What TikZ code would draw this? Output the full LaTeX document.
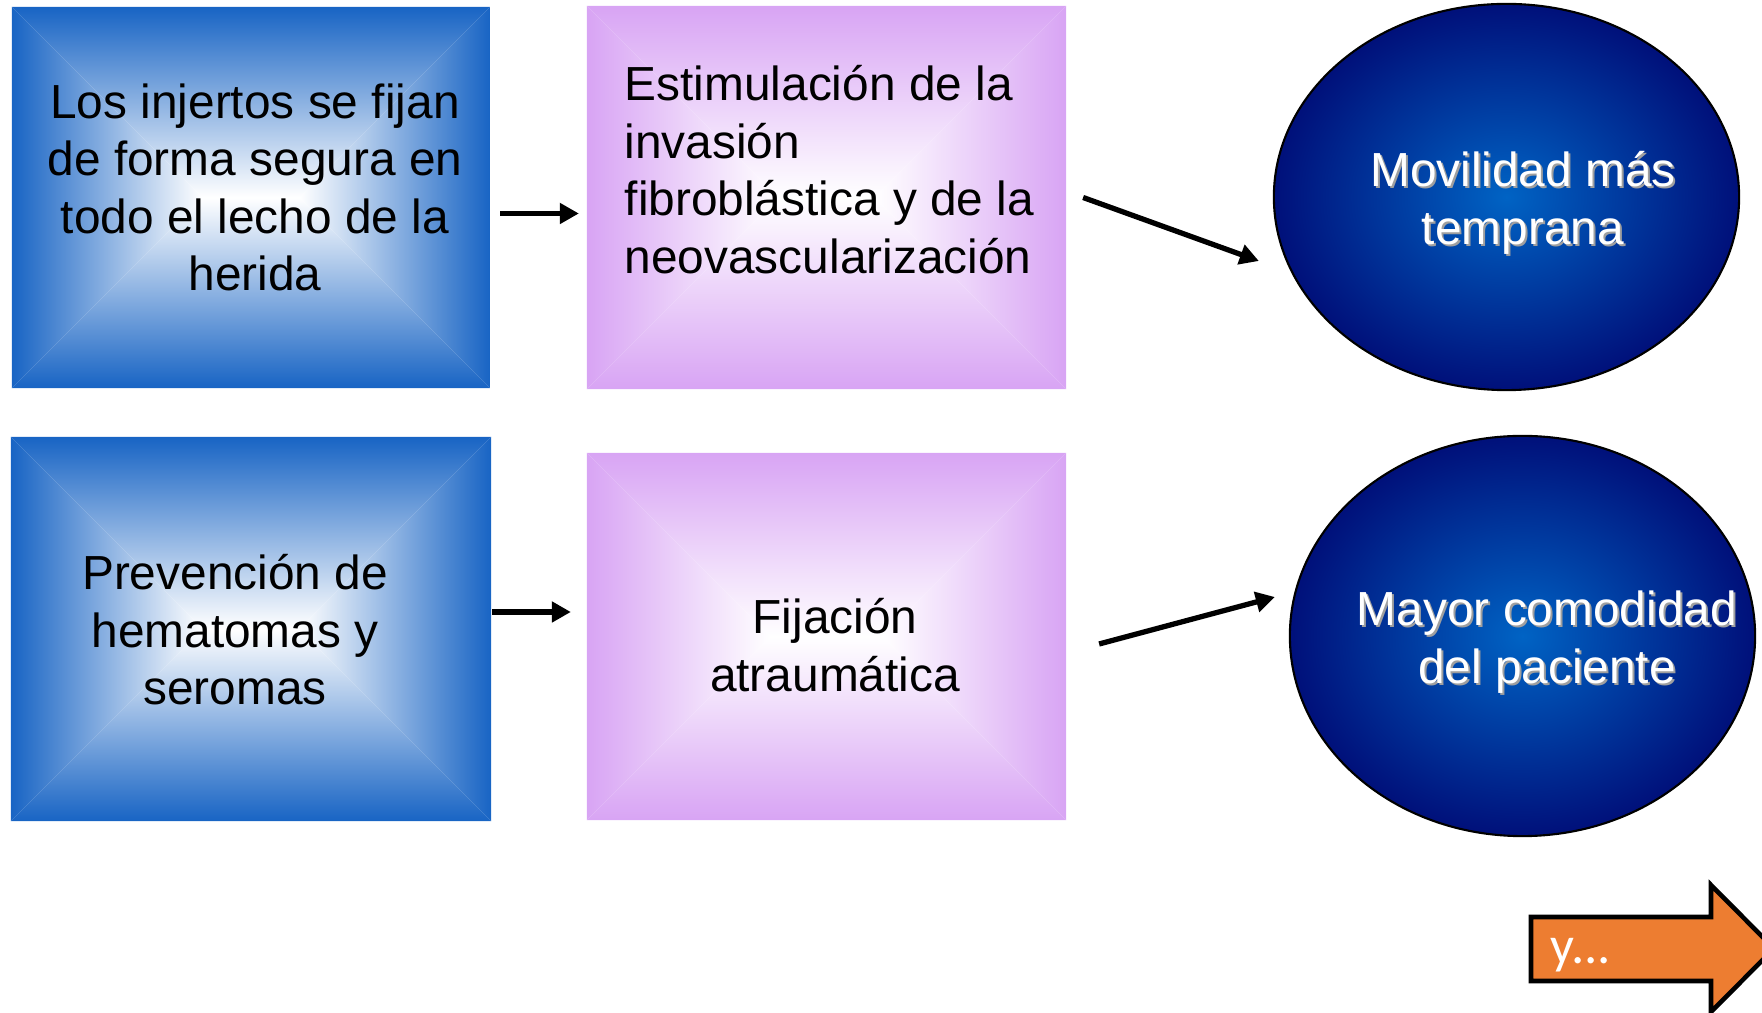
\documentclass[tikz,border=0pt]{standalone}
\usepackage{fontspec}
\setmainfont{Liberation Sans}
\newfontfamily\arrowfont{Carlito}
\usepackage{tikz}
\usetikzlibrary{arrows.meta, positioning, shapes.geometric, calc}

\definecolor{boxblue}{RGB}{24,100,196}
\definecolor{boxlilac}{RGB}{216,164,244}
\definecolor{ovalmid}{RGB}{0,99,196}
\definecolor{ovaledge}{RGB}{0,16,122}
\definecolor{arroworange}{RGB}{237,125,49}

% rectangle path gradient: white in the middle, colour at the edges
% #1 node, #2 edge colour, #3 half the box height
\newcommand{\rectshade}[3]{%
  \shade[top color=#2, bottom color=white] (#1.north west) -- (#1.north east) -- ([xshift=-#3]#1.east) -- ([xshift=#3]#1.west) -- cycle;
  \shade[bottom color=#2, top color=white] (#1.south west) -- (#1.south east) -- ([xshift=-#3]#1.east) -- ([xshift=#3]#1.west) -- cycle;
  \shade[left color=#2, right color=white] (#1.north west) -- (#1.south west) -- ([xshift=#3]#1.west) -- cycle;
  \shade[right color=#2, left color=white] (#1.north east) -- (#1.south east) -- ([xshift=-#3]#1.east) -- cycle;
}

\begin{document}
\begin{tikzpicture}[x=0.01cm, y=-0.01cm,
    box/.style={rectangle, inner sep=0pt, outer sep=0pt},
    oval/.style={ellipse, draw=black, line width=0.6pt, inner sep=0pt, outer sep=0pt,
      inner color=ovalmid, outer color=ovaledge},
    boxtext/.style={font=\fontsize{13.6}{16.35}\selectfont, align=center, inner sep=0pt},
    ovaltext/.style={font=\fontsize{13.6}{16.5}\selectfont, align=center, inner sep=0pt, text=white},
    ovalshadow/.style={ovaltext, text=gray!75},
    conn/.style={line width=1.5pt, -{Triangle[length=0.19cm, width=0.2cm]}}]
    \useasboundingbox (0,0) rectangle (1762,1013);

    % top row
    \node[box, minimum width=4.78cm, minimum height=3.81cm] (injertos) at (251,197.5) {};
    \rectshade{injertos}{boxblue}{1.905cm}
    \node[boxtext] (injertosT) at (255,187.5) {Los injertos se fijan\\de forma segura en\\todo el lecho de la\\herida};

    \node[box, minimum width=4.79cm, minimum height=3.83cm] (estim) at (826.5,197.5) {};
    \rectshade{estim}{boxlilac}{1.915cm}
    \node[boxtext, align=left, anchor=west] (estimT) at (624,169.5) {Estimulación de la\\invasión\\fibroblástica y de la\\neovascularización};

    \node[oval, minimum width=4.65cm, minimum height=3.86cm] (movil) at (1506.5,197) {};
    \node[ovalshadow] (movilS) at (1525,204.5) {Movilidad más\\temprana};
    \node[ovaltext] (movilT) at (1523,202.5) {Movilidad más\\temprana};

    % bottom row
    \node[box, minimum width=4.80cm, minimum height=3.84cm] (prev) at (251,629) {};
    \rectshade{prev}{boxblue}{1.92cm}
    \node[boxtext] (prevT) at (235,630) {Prevención de\\hematomas y\\seromas};

    \node[box, minimum width=4.79cm, minimum height=3.67cm] (fij) at (826.5,636.5) {};
    \rectshade{fij}{boxlilac}{1.835cm}
    \node[boxtext] (fijT) at (835,645) {Fijación\\atraumática};

    \node[oval, minimum width=4.65cm, minimum height=4.00cm] (comod) at (1522.5,636) {};
    \node[ovalshadow] (comodS) at (1549,644) {Mayor comodidad\\del paciente};
    \node[ovaltext] (comodT) at (1547,642) {Mayor comodidad\\del paciente};

    % connectors
    \draw[conn] ($(injertos.east)+(10,16)$) -- ($(estim.west)+(-8,16)$);
    \draw[conn] ($(estim.east)+(17,0)$) -- ($(movil.west)+(-15,64)$);
    \draw[conn] ($(prev.east)+(1,-17)$) -- ($(fij.west)+(-16,-24.5)$);
    \draw[conn] ($(fij.east)+(33,7.5)$) -- ($(comod.west)+(-15,-39)$);

    % orange block arrow, its tip runs off the page
    \draw[fill=arroworange, line width=1.3pt] (1531,917) -- (1711,917) -- (1711,885) -- (1774,948.5)
      -- (1711,1012) -- (1711,981) -- (1531,981) -- cycle;
    \node[font=\arrowfont\fontsize{15}{17}\selectfont, text=white, anchor=west, inner sep=0pt] (sigue) at (1550,955) {y...};
\end{tikzpicture}
\end{document}
